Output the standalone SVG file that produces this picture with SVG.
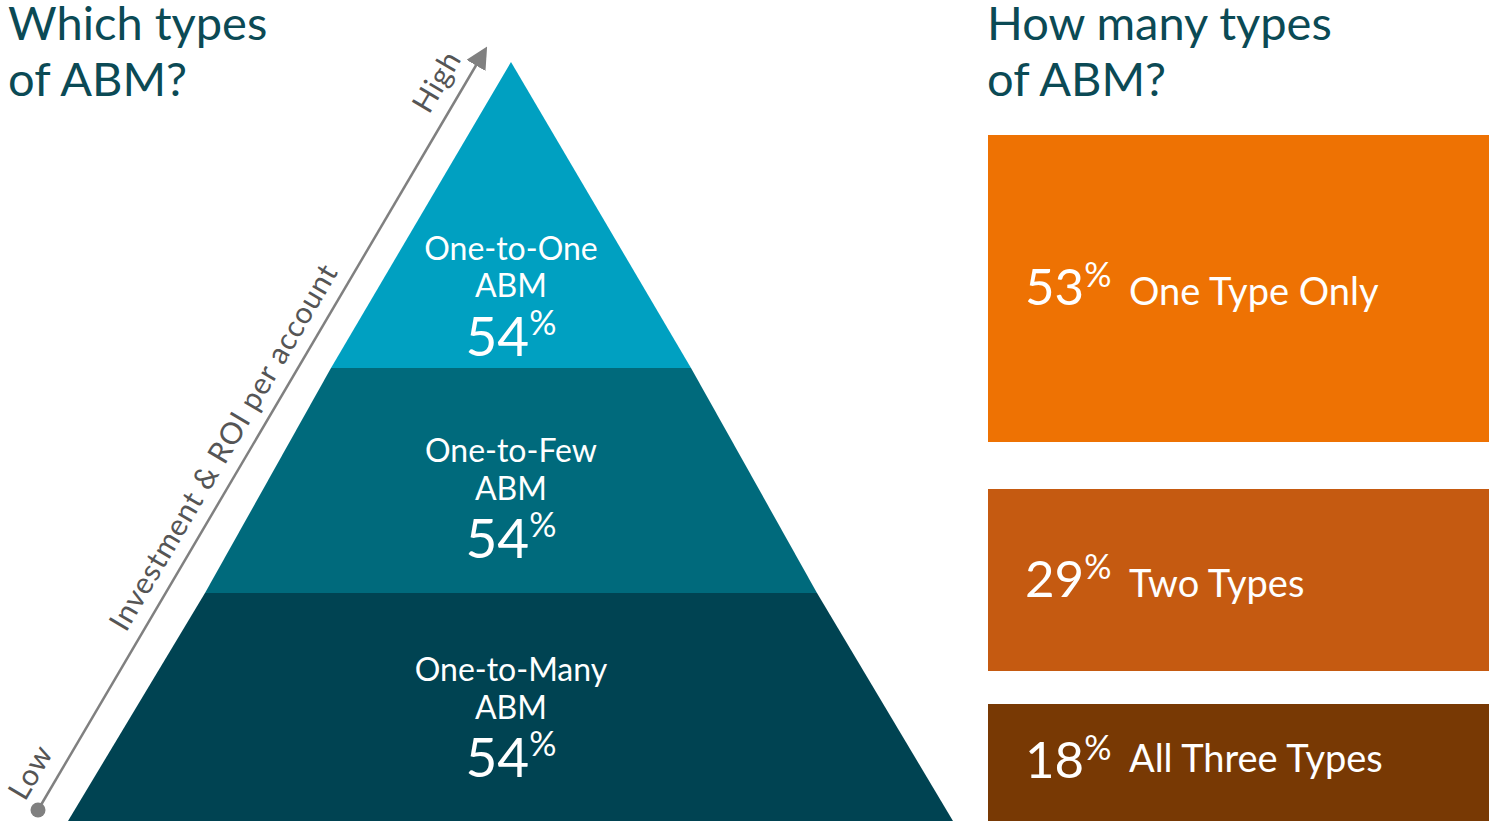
<svg xmlns="http://www.w3.org/2000/svg" width="1491" height="821" viewBox="0 0 1491 821">
<style>
text{font-family:Lato,"Noto Sans","Liberation Sans",sans-serif}
.h{fill:#0B4A55;font-size:47px}
.lbl{fill:#fff;font-size:32px;text-anchor:middle}
.big{fill:#fff;font-size:55px;text-anchor:middle}
.pc{font-size:34px}
.ax{fill:#555;font-size:30px;letter-spacing:0.8px}
.bn{fill:#fff;font-size:51px}
.bt{fill:#fff;font-size:38px}
</style>
<defs>
<marker id="ah" markerWidth="22" markerHeight="22" refX="4" refY="11" orient="auto" markerUnits="userSpaceOnUse" viewBox="0 0 22 22">
<path d="M0,0 L22,11 L0,22 z" fill="#808080"/>
</marker>
</defs>
<rect width="1491" height="821" fill="#fff"/>
<g id="title-left"><text class="h" x="8" y="40">Which types</text><text class="h" x="8" y="96">of ABM?</text></g>
<g id="title-right"><text class="h" x="987" y="40">How many types</text><text class="h" x="987" y="96">of ABM?</text></g>
<g id="layer-top">
<polygon points="511,62 691,368 331,368" fill="#00A0C1"/>
<text class="lbl" x="511" y="260">One-to-One</text>
<text class="lbl" x="511" y="297">ABM</text>
<text class="big" x="511" y="356">54<tspan class="pc" dy="-21">%</tspan></text>
</g>
<g id="layer-mid">
<polygon points="331,368 691,368 817,593 205,593" fill="#006A7C"/>
<text class="lbl" x="511" y="462">One-to-Few</text>
<text class="lbl" x="511" y="500">ABM</text>
<text class="big" x="511" y="558">54<tspan class="pc" dy="-21">%</tspan></text>
</g>
<g id="layer-bot">
<polygon points="205,593 817,593 953,821 68,821" fill="#004352"/>
<text class="lbl" x="511" y="681">One-to-Many</text>
<text class="lbl" x="511" y="719">ABM</text>
<text class="big" x="511" y="777">54<tspan class="pc" dy="-21">%</tspan></text>
</g>
<g id="connectors">
<line x1="38" y1="810" x2="478" y2="62" stroke="#808080" stroke-width="2.5" marker-end="url(#ah)"/>
<circle cx="38" cy="810" r="7.5" fill="#808080"/>
</g>
<g id="axis-labels">
<text class="ax" transform="translate(25,802) rotate(-59.5)">Low</text>
<text class="ax" transform="translate(126,633) rotate(-59.5)">Investment &amp; ROI per account</text>
<text class="ax" transform="translate(429,115) rotate(-59.5)">High</text>
</g>
<g id="box-one">
<rect x="988" y="135" width="501" height="307" fill="#EE7203"/>
<text class="bn" x="1025" y="305">53<tspan class="pc" dy="-18">%</tspan></text>
<text class="bt" x="1129" y="305">One Type Only</text>
</g>
<g id="box-two">
<rect x="988" y="489" width="501" height="182" fill="#C55A11"/>
<text class="bn" x="1025" y="597">29<tspan class="pc" dy="-18">%</tspan></text>
<text class="bt" x="1129" y="597">Two Types</text>
</g>
<g id="box-three">
<rect x="988" y="704" width="501" height="117" fill="#783904"/>
<text class="bn" x="1025" y="778">18<tspan class="pc" dy="-18">%</tspan></text>
<text class="bt" x="1129" y="772">All Three Types</text>
</g>
</svg>
